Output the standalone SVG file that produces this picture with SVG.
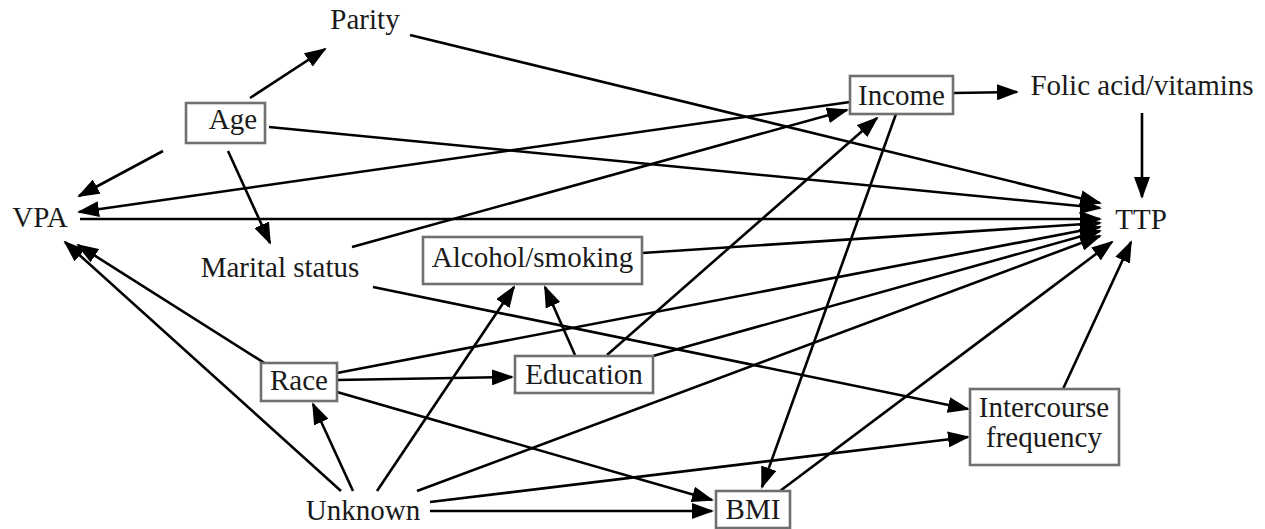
<svg xmlns="http://www.w3.org/2000/svg" width="1265" height="529" viewBox="0 0 1265 529">
<defs>
<marker id="ah" viewBox="0 0 22 16" markerWidth="22" markerHeight="16" refX="20" refY="8" orient="auto" markerUnits="userSpaceOnUse">
<path d="M0,0 L22,8 L0,16 z" fill="#000"/>
</marker>
</defs>
<style>
.e{stroke:#000;stroke-width:2.6;fill:none;marker-end:url(#ah)}
.b{fill:#fff;stroke:#707070;stroke-width:2.6}
text{font-family:"Liberation Serif","DejaVu Serif",serif;font-size:29px;fill:#1a1a1a;text-anchor:middle}
</style>
<rect width="1265" height="529" fill="#fff"/>
<g id="connectors">
<line class="e" x1="250" y1="98" x2="325" y2="49"/>
<line class="e" x1="163" y1="151" x2="79" y2="196"/>
<line class="e" x1="228" y1="151" x2="270" y2="243"/>
<line class="e" x1="269" y1="127" x2="1100" y2="208"/>
<line class="e" x1="410" y1="35" x2="1100" y2="203"/>
<line class="e" x1="850" y1="102" x2="79" y2="212"/>
<line class="e" x1="352" y1="247" x2="847" y2="110"/>
<line class="e" x1="80" y1="219" x2="1100" y2="219"/>
<line class="e" x1="896" y1="114" x2="762" y2="487"/>
<line class="e" x1="953" y1="93" x2="1017" y2="92"/>
<line class="e" x1="1142" y1="113" x2="1142" y2="197"/>
<line class="e" x1="642" y1="253" x2="1100" y2="223"/>
<line class="e" x1="607" y1="355" x2="877" y2="118"/>
<line class="e" x1="575" y1="355" x2="545" y2="287"/>
<line class="e" x1="653" y1="356" x2="1100" y2="231"/>
<line class="e" x1="337" y1="373" x2="1100" y2="227"/>
<line class="e" x1="337" y1="380" x2="512" y2="377"/>
<line class="e" x1="337" y1="392" x2="712" y2="500"/>
<line class="e" x1="266" y1="364" x2="78" y2="245"/>
<line class="e" x1="373" y1="287" x2="968" y2="409"/>
<line class="e" x1="341" y1="491" x2="65" y2="242"/>
<line class="e" x1="353" y1="491" x2="313" y2="404"/>
<line class="e" x1="377" y1="491" x2="514" y2="287"/>
<line class="e" x1="417" y1="491" x2="1100" y2="236"/>
<line class="e" x1="430" y1="502" x2="968" y2="437"/>
<line class="e" x1="430" y1="511" x2="712" y2="511"/>
<line class="e" x1="780" y1="491" x2="1112" y2="242"/>
<line class="e" x1="1063" y1="389" x2="1131" y2="242"/>
</g>
<g id="parity"><text x="365" y="29">Parity</text></g>
<g id="age"><rect class="b" x="186" y="103" width="79" height="40"/><text x="233" y="129">Age</text></g>
<g id="income"><rect class="b" x="850" y="76" width="103" height="38"/><text x="901.5" y="105">Income</text></g>
<g id="folic"><text x="1142" y="95">Folic acid/vitamins</text></g>
<g id="ttp"><text x="1141" y="229">TTP</text></g>
<g id="vpa"><text x="40" y="227">VPA</text></g>
<g id="marital"><text x="280" y="277">Marital status</text></g>
<g id="alcohol"><rect class="b" x="423" y="237" width="219" height="47"/><text x="532.5" y="267">Alcohol/smoking</text></g>
<g id="race"><rect class="b" x="261" y="363" width="76" height="38"/><text x="299" y="390">Race</text></g>
<g id="education"><rect class="b" x="515" y="356" width="138" height="37"/><text x="584" y="384">Education</text></g>
<g id="intercourse"><rect class="b" x="970" y="389" width="149" height="76"/><text x="1044" y="417">Intercourse</text><text x="1044" y="447">frequency</text></g>
<g id="unknown"><text x="363" y="520">Unknown</text></g>
<g id="bmi"><rect class="b" x="716" y="491" width="74" height="37"/><text x="753" y="519">BMI</text></g>
</svg>
